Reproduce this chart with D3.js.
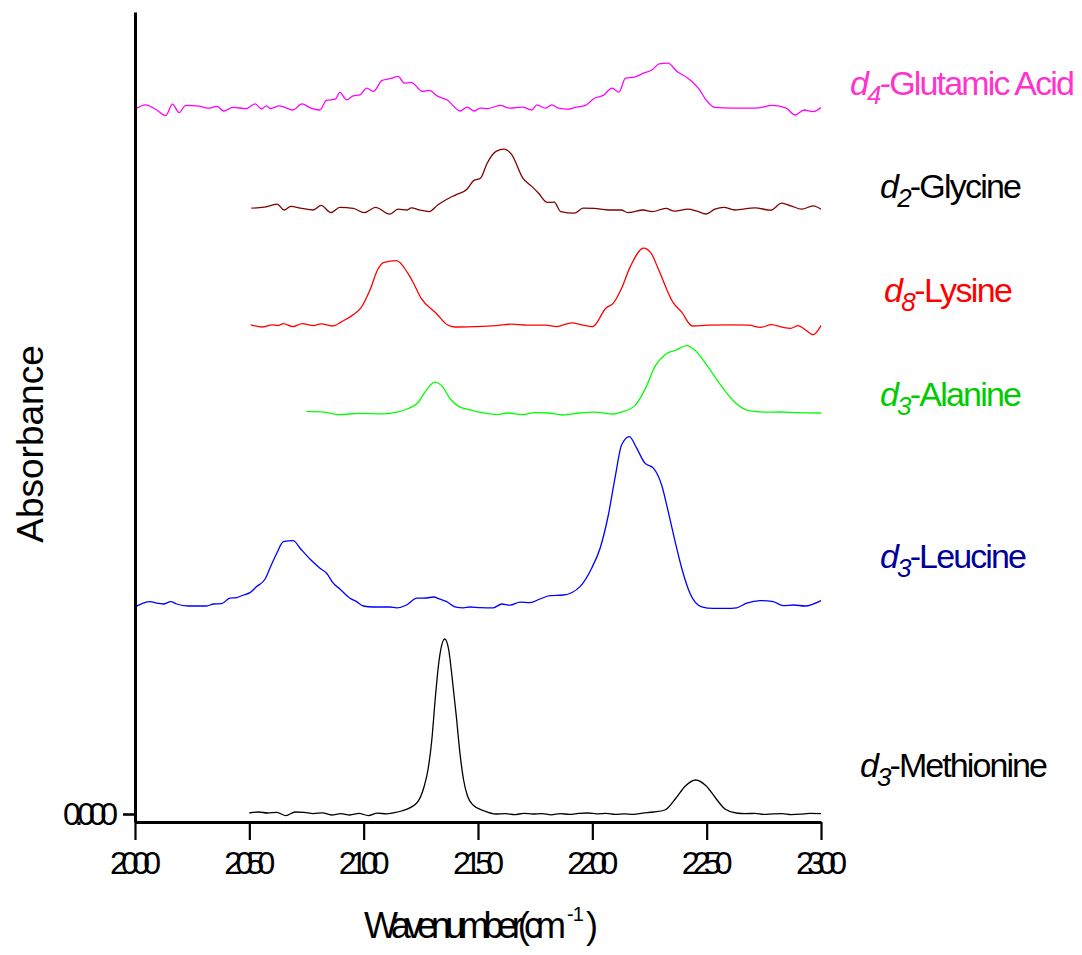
<!DOCTYPE html>
<html><head><meta charset="utf-8">
<script src="https://cdn.jsdelivr.net/npm/d3@7"></script>
<style>
html,body{margin:0;padding:0;background:#fff;}
svg{display:block;font-family:"Liberation Sans",Arial,sans-serif;}
</style></head><body>
<svg id="chart" width="1082" height="955"></svg>
<script>
// ---- Axis ticks ----
const majorTicksX = [2000, 2050, 2100, 2150, 2200, 2250, 2300];
const minorTicksX = [2025, 2075, 2125, 2175, 2225, 2275];
const majorTicksY = [0];
const minorTicksY = [0.218];

// ---- Spectra: wavenumber (cm-1) and absorbance above each trace's baseline ----
const seriesNames = ["Glutamic Acid", "Glycine", "Lysine", "Alanine", "Leucine", "Methionine"];
const seriesSub = ["4", "2", "8", "3", "3", "3"];
const seriesOffsets = [0.3529, 0.3024, 0.2442, 0.2005, 0.104, 0];

const glutamicX = [2000,2004.6,2009.5,2013.4,2016.4,2019.3,2022.2,2027.1,2032,2035.9,2038.8,2042.7,2048.6,2052.5,2055.4,2057.4,2059.3,2063.2,2065.2,2069.1,2073,2076.9,2080.8,2083.7,2087.6,2089.6,2092.5,2095.4,2098.4,2101.3,2104.2,2108.1,2112,2115,2117.9,2120.8,2125.7,2128.6,2132.5,2136.4,2142.3,2145.2,2148.2,2151.1,2154,2159.8,2163.8,2169.6,2173.5,2175.8,2179.4,2182.3,2185.2,2189.1,2193,2197,2200.9,2204.8,2208.6,2211.6,2214.5,2218.4,2222.3,2226.2,2229.2,2233.1,2237,2241.8,2246.7,2249.7,2253.6,2261.4,2271.1,2279,2284.8,2288.7,2292.6,2296.6,2300];
const glutamicY = [-0.0005,0.0017,-0.0009,-0.0037,0.0020,-0.0022,0.0014,0.0012,0,0.0009,-0.0014,0.0004,-0.0002,0.0022,-0.0004,0.0012,-0.0002,0.0012,0.0005,-0.0009,0.0022,0,-0.0009,0.0039,0.0045,0.0079,0.0042,0.0062,0.0067,0.0100,0.0084,0.0139,0.0149,0.0159,0.0125,0.0129,0.0084,0.0089,0.0059,0.0042,-0.0014,0.0005,-0.0014,0,-0.0002,0.0014,0,0.0005,-0.0009,0.0017,0,0.0017,0,-0.0005,0.0005,0.0014,0.0050,0.0064,0.0100,0.0080,0.0150,0.0155,0.0175,0.0192,0.0222,0.0225,0.0184,0.0150,0.0095,0.0042,0.0004,0,0,0.0014,0,-0.0034,-0.0009,-0.0017,0.0004];

const glycineX = [2050.9,2056.4,2062.2,2065.2,2068.1,2073,2077.9,2081.4,2085.7,2089.6,2095.4,2100.3,2105.2,2111.4,2115,2118.9,2120.8,2124.7,2128.6,2132.5,2136.4,2140.3,2145.2,2148.2,2151.1,2154,2157.9,2161.4,2164.7,2169.6,2173.5,2176.5,2180.3,2183.3,2186.2,2192.1,2196,2200.9,2206.7,2212.6,2215.5,2222.3,2226.2,2232.1,2236,2241.8,2245.8,2249.7,2253.6,2257.5,2262.3,2271.1,2278,2282.8,2286.8,2291.6,2296.6,2300];
const glycineY = [0.0005,0.0010,0.0025,-0.0004,0.0014,0.0004,-0.0004,0.0019,-0.0017,0.0009,0.0004,-0.0017,0.0009,-0.0025,0,-0.0004,0.0007,-0.0005,-0.0012,0.0022,0.0050,0.0072,0.0100,0.0144,0.0155,0.0230,0.0289,0.0300,0.0274,0.0155,0.0114,0.0080,0.0034,0.0035,-0.0012,-0.0020,0.0005,0.0004,-0.0004,-0.0004,-0.0017,-0.0004,-0.0012,0.0004,-0.0010,0,-0.0010,-0.0024,0,0.0009,-0.0004,0.0007,-0.0005,0.0030,0.0017,0,0.0017,0];

const lysineX = [2050.6,2055.8,2060,2062.4,2064.9,2069,2073.1,2078.1,2081.4,2086.3,2090.4,2095.4,2098.7,2102.8,2106.1,2108.6,2114.4,2119.3,2121.8,2125.1,2131.7,2136.6,2139.9,2148.2,2158,2164.6,2171.3,2179.5,2184.4,2191,2196,2200.1,2205.9,2209.2,2212.5,2216.6,2222.4,2225.7,2229,2235.5,2238.9,2243.8,2250.4,2260.3,2268.5,2273.5,2278.4,2283.4,2286.7,2290,2293.3,2296.6,2300];
const lysineY = [0.0004,-0.0007,0.0004,0,0.0010,-0.0005,0.0010,0,0.0009,-0.0002,0.0020,0.0054,0.0087,0.0179,0.0279,0.0315,0.0325,0.0262,0.0212,0.0137,0.0062,0.0004,-0.0007,-0.0005,0,0.0007,0.0002,0.0002,-0.0005,0.0014,0.0002,-0.0005,0.0087,0.0112,0.0179,0.0295,0.0387,0.0362,0.0279,0.0112,0.0070,-0.0002,0.0002,0.0004,0.0002,-0.0009,0.0005,-0.0009,-0.0014,0,-0.0022,-0.0045,0];

const alanineX = [2075,2082.9,2089.6,2098,2108.5,2114.5,2119,2123.6,2127.3,2131.1,2134.1,2137.9,2141.7,2146.2,2150.7,2158.3,2162.8,2169.6,2174.8,2180.9,2186.9,2194.5,2200.5,2209.5,2212.5,2218.6,2223.1,2227.6,2232.2,2236.7,2241.2,2245,2250.2,2256.3,2262.3,2268.3,2275.9,2281.9,2289.5,2300];
const alanineY = [0.0008,0.0004,-0.0008,-0.0002,-0.0004,0.0004,0.0020,0.0050,0.0112,0.0154,0.0137,0.0070,0.0032,0.0017,0.0004,-0.0008,0,-0.0008,0.0002,0,-0.0010,0,0.0004,-0.0005,0.0004,0.0037,0.0120,0.0237,0.0295,0.0315,0.0337,0.0312,0.0237,0.0137,0.0054,0.0012,0.0004,0.0005,0.0002,0];

const leucineX = [2000,2006.6,2009.5,2012.4,2015.6,2018.2,2023.3,2031.3,2034.3,2037.9,2041.5,2044.5,2047.4,2050.3,2053.2,2056.9,2059,2062,2064.9,2069.2,2072.2,2076.5,2080.9,2083.8,2086.7,2089.6,2094,2096.9,2099.8,2104.2,2111.5,2114.4,2118.8,2123.2,2127.6,2130.5,2133.4,2136.3,2139.9,2143.6,2146.5,2150.9,2156.7,2160.4,2164,2168.4,2172.7,2177.1,2181.5,2187.3,2194.6,2199.7,2203.4,2207,2209.9,2212.8,2216.2,2219.4,2223,2226.7,2230.3,2233.2,2236.2,2239.1,2242.7,2247.8,2252.9,2258.7,2263.1,2267.5,2273.3,2279.1,2283.5,2287.9,2293,2300];
const leucineY = [-0.0004,0.0022,0.0014,0.0010,0.0022,0.0010,0,0,0.0010,0.0012,0.0039,0.0042,0.0055,0.0067,0.0097,0.0135,0.0189,0.0264,0.0322,0.0327,0.0289,0.0235,0.0189,0.0164,0.0114,0.0085,0.0039,0.0022,0,-0.0005,-0.0005,-0.0009,0.0005,0.0039,0.0040,0.0045,0.0034,0.0022,-0.0004,-0.0009,-0.0005,-0.0008,-0.0009,0.0010,0.0004,0.0019,0.0017,0.0035,0.0052,0.0055,0.0097,0.0189,0.0289,0.0455,0.0639,0.0805,0.0847,0.0789,0.0714,0.0689,0.0605,0.0472,0.0322,0.0189,0.0064,-0.0004,-0.0012,-0.0012,-0.0009,0.0014,0.0027,0.0022,0.0002,0.0005,0,0.0027];

const methionineX = [2050,2054,2058,2062,2066,2070,2074,2078,2082,2086,2090,2094,2098,2102,2106,2110,2113,2116.6,2123.2,2126.5,2128.1,2129.8,2131.4,2133,2135.5,2137.2,2138.8,2140.5,2142.1,2143.7,2145.4,2147.8,2152.8,2157.7,2162,2166,2170,2174,2178,2182,2186,2190,2194,2198,2202,2206,2210,2214,2218,2222,2226.8,2231.7,2236.6,2240.7,2245.2,2249.8,2253.9,2258,2262.9,2267,2271,2275,2279,2283,2287,2291,2295,2300];
const methionineY = [0.0005,0.0010,0.0005,0.0008,-0.0008,0.0010,0.0008,0.0002,0.0006,-0.0005,0.0002,-0.0005,0.0003,-0.0008,0.0004,0.0001,0.0006,0.0015,0.0055,0.014,0.022,0.037,0.059,0.077,0.0875,0.082,0.067,0.049,0.0305,0.017,0.009,0.0045,0.0015,0,0.0002,-0.0003,0.0003,0,0.0002,-0.0004,0.0002,-0.0002,0.0003,0.0005,0.0001,0.0003,-0.0002,0.0001,-0.0002,0.0004,0.0010,0.0020,0.0080,0.0140,0.0170,0.0140,0.0080,0.0025,0.0005,0.0002,0.0003,-0.0002,0.0001,0.0002,-0.0003,-0.0001,0.0003,0.0002];

const seriesX = [glutamicX, glycineX, lysineX, alanineX, leucineX, methionineX];
const seriesY = [glutamicY, glycineY, lysineY, alanineY, leucineY, methionineY];

// ---- Styling ----
const lineColors = ["#ff00ff", "#800000", "#ff0000", "#00ff00", "#0000ff", "#000000"];
const labelColors = ["#ff33cc", "#000000", "#ff0000", "#00cc00", "#000099", "#000000"];
const labelPos = [[850, 95, 225], [880, 198, 142], [884, 302, 129], [880, 406, 142], [880, 568, 147], [860, 777, 188]];

const svg = d3.select("#chart");

const x = d3.scaleLinear().domain([2000, 2300]).range([135, 821]);
const y = d3.scaleLinear().domain([-0.004, 0.401]).range([822, 12]);

// traces
const line = d3.line()
  .x(d => x(d.w))
  .y(d => y(d.a))
  .curve(d3.curveMonotoneX);

seriesNames.forEach((name, i) => {
  const pts = seriesX[i].map((w, j) => ({ w, a: seriesOffsets[i] + seriesY[i][j] }));
  svg.append("path")
    .datum(pts)
    .attr("fill", "none")
    .attr("stroke", lineColors[i])
    .attr("stroke-width", 1.3)
    .attr("stroke-linejoin", "round")
    .attr("d", line);
});

// x axis
const gx = svg.append("g").attr("transform", "translate(0,822)");
gx.call(d3.axisBottom(x).tickValues(minorTicksX).tickSize(10).tickFormat(""));
gx.call(d3.axisBottom(x).tickValues(majorTicksX).tickSizeInner(18).tickSizeOuter(0).tickPadding(11).tickFormat(d3.format("d")));
gx.selectAll("line").attr("stroke", "#000").attr("stroke-width", 2.2);
gx.selectAll(".domain").attr("stroke", "#000").attr("stroke-width", 3);
gx.selectAll("text")
  .attr("fill", "#000")
  .style("font-size", "32px")
  .attr("textLength", 51)
  .attr("lengthAdjust", "spacing");

// y axis
const gy = svg.append("g").attr("transform", "translate(135,0)");
gy.call(d3.axisLeft(y).tickValues(minorTicksY).tickSize(7).tickFormat(""));
gy.call(d3.axisLeft(y).tickValues(majorTicksY).tickSizeInner(12).tickSizeOuter(0).tickPadding(5).tickFormat(d3.format(".3f")));
gy.selectAll("line").attr("stroke", "#000").attr("stroke-width", 2.6);
gy.selectAll(".domain").attr("stroke", "#000").attr("stroke-width", 3);
gy.selectAll("text")
  .attr("fill", "#000")
  .style("font-size", "32px")
  .attr("textLength", 55)
  .attr("lengthAdjust", "spacing");

// axis titles: main text, then the superscripted exponent as its own element
svg.append("text")
  .attr("x", 364).attr("y", 938)
  .attr("font-size", 36)
  .attr("textLength", 202)
  .attr("lengthAdjust", "spacing")
  .text("Wavenumber(cm");
svg.append("text")
  .attr("x", 567).attr("y", 921)
  .attr("font-size", 20)
  .attr("letter-spacing", -1)
  .text("-1");
svg.append("text")
  .attr("x", 586).attr("y", 938)
  .attr("font-size", 36)
  .text(")");

svg.append("text")
  .attr("transform", "translate(43,444) rotate(-90)")
  .attr("text-anchor", "middle")
  .attr("font-size", 37)
  .text("Absorbance");

// trace labels
seriesNames.forEach((name, i) => {
  const [lx, ly, lw] = labelPos[i];
  const t = svg.append("text")
    .attr("x", lx).attr("y", ly)
    .attr("fill", labelColors[i])
    .attr("font-size", 34)
    .attr("textLength", lw)
    .attr("lengthAdjust", "spacing");
  t.append("tspan").attr("font-style", "italic").text("d");
  t.append("tspan").attr("font-style", "italic").attr("font-size", 26).attr("dy", 9).text(seriesSub[i]);
  t.append("tspan").attr("dy", -9).text("-" + name);
});
</script>
</body></html>
